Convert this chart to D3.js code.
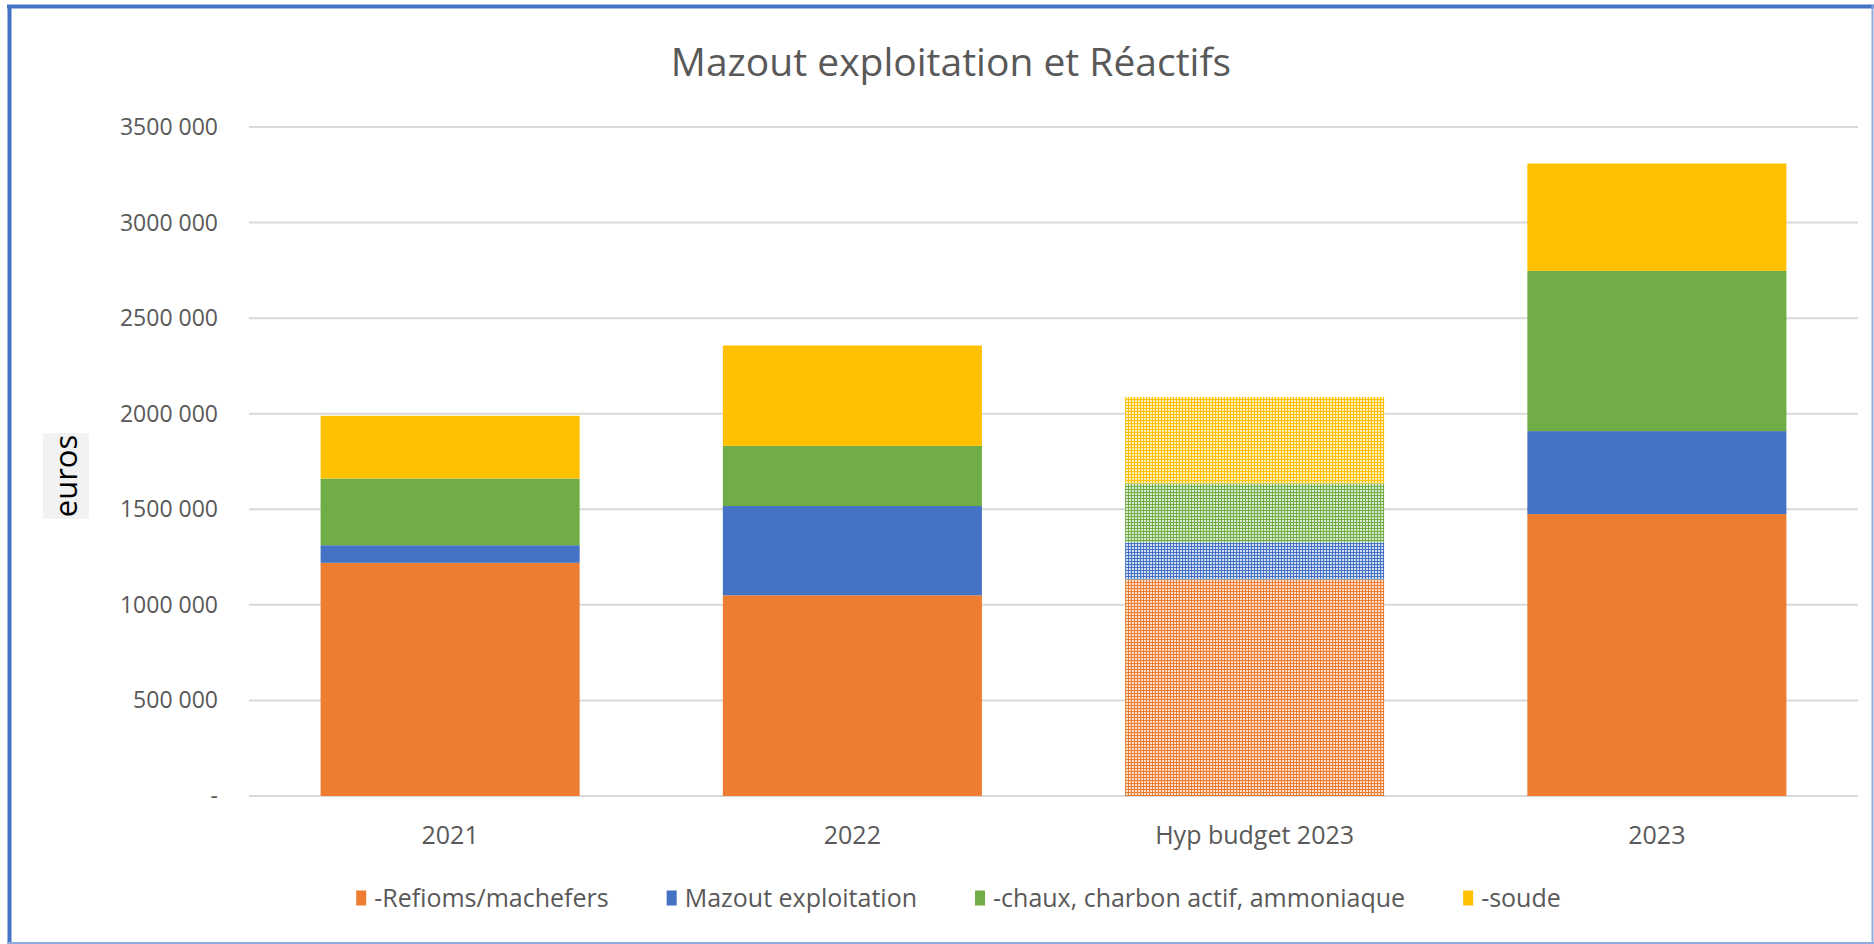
<!DOCTYPE html>
<html lang="fr">
  <head>
    <meta charset="utf-8">
    <title>Mazout exploitation et Réactifs</title>
    <script src="https://cdnjs.cloudflare.com/ajax/libs/d3/7.8.5/d3.min.js"></script>
    <style>
      body { margin: 0; background: #fff; }
      svg { display: block; font-family: "Open Sans", sans-serif; }
      .tick-label { fill: #595959; }
    </style>
  </head>
  <body>
    <div id="chart"></div>
    <script>
    // data (euros)
    const categories = ["2021", "2022", "Hyp budget 2023", "2023"];
    const refioms = [1220000, 1050000, 1133000, 1475000];
    const mazout  = [92000, 467000, 194000, 434000];
    const chaux   = [349000, 315000, 308000, 838000];
    const soude   = [328000, 525000, 453000, 562000];
    const seriesNames = ["-Refioms/machefers", "Mazout exploitation", "-chaux, charbon actif, ammoniaque", "-soude"];
    const seriesColors = ["#ED7D31", "#4472C4", "#70AD47", "#FFC000"];
    const yTicks = [0, 500000, 1000000, 1500000, 2000000, 2500000, 3000000, 3500000];
    const yTickLabels = ["-", "500 000", "1000 000", "1500 000", "2000 000", "2500 000", "3000 000", "3500 000"];
    const hatched = ["Hyp budget 2023"];  // budget hypothesis drawn with a dotted pattern

    const W = 1874, H = 944;
    const plot = {left: 249, right: 1858, top: 127, bottom: 796};

    const svg = d3.select("#chart").append("svg")
      .attr("width", W).attr("height", H);

    // patterns for the budget bar
    const defs = svg.append("defs");
    seriesColors.forEach((c, i) => {
      const p = defs.append("pattern")
        .attr("id", "pat" + i)
        .attr("patternUnits", "userSpaceOnUse")
        .attr("width", 3).attr("height", 3);
      p.append("rect").attr("width", 3).attr("height", 3).attr("fill", c);
      p.append("rect").attr("x", 1).attr("y", 1).attr("width", 2).attr("height", 2).attr("fill", "#fff").attr("opacity", 0.75);
    });

    // frame
    svg.append("line").attr("x1", 7).attr("x2", W).attr("y1", 6.5).attr("y2", 6.5)
      .attr("stroke", "#4472C4").attr("stroke-width", 4);
    svg.append("line").attr("x1", 9.5).attr("x2", 9.5).attr("y1", 5).attr("y2", H)
      .attr("stroke", "#4472C4").attr("stroke-width", 4);
    svg.append("line").attr("x1", 7).attr("x2", W).attr("y1", H - 1).attr("y2", H - 1)
      .attr("stroke", "#8FAADC").attr("stroke-width", 2);
    svg.append("line").attr("x1", W - 1.5).attr("x2", W - 1.5).attr("y1", 5).attr("y2", H)
      .attr("stroke", "#8FAADC").attr("stroke-width", 2);

    const x = d3.scaleBand()
      .domain(categories)
      .range([plot.left, plot.right])
      .paddingInner(0.356)
      .paddingOuter(0.178);

    const y = d3.scaleLinear()
      .domain([0, 3500000])
      .range([plot.bottom, plot.top]);

    // gridlines
    svg.append("g")
      .selectAll("line")
      .data(yTicks)
      .join("line")
      .attr("x1", plot.left).attr("x2", plot.right)
      .attr("y1", d => y(d)).attr("y2", d => y(d))
      .attr("stroke", "#D9D9D9").attr("stroke-width", 2);

    // y labels
    svg.append("g")
      .selectAll("text")
      .data(yTicks)
      .join("text")
      .attr("class", "tick-label")
      .attr("x", 218)
      .attr("y", d => y(d))
      .attr("dy", "0.35em")
      .attr("text-anchor", "end")
      .style("font-size", "23px")
      .text((d, i) => yTickLabels[i]);

    // stack
    const rows = categories.map((c, i) => ({cat: c, s0: refioms[i], s1: mazout[i], s2: chaux[i], s3: soude[i]}));
    const stack = d3.stack().keys(["s0", "s1", "s2", "s3"])(rows);

    stack.forEach((layer, li) => {
      svg.append("g")
        .selectAll("rect")
        .data(layer)
        .join("rect")
        .attr("x", d => x(d.data.cat))
        .attr("width", x.bandwidth())
        .attr("y", d => y(d[1]))
        .attr("height", d => y(d[0]) - y(d[1]))
        .attr("fill", d => hatched.includes(d.data.cat) ? "url(#pat" + li + ")" : seriesColors[li]);
    });

    // x labels
    svg.append("g")
      .selectAll("text")
      .data(categories)
      .join("text")
      .attr("class", "tick-label")
      .attr("x", d => x(d) + x.bandwidth() / 2)
      .attr("y", 835)
      .attr("dy", "0.35em")
      .attr("text-anchor", "middle")
      .style("font-size", "25px")
      .text(d => d);

    // title
    svg.append("text")
      .attr("x", 951)
      .attr("y", 62)
      .attr("dy", "0.35em")
      .attr("text-anchor", "middle")
      .attr("fill", "#595959")
      .style("font-size", "39px")
      .text("Mazout exploitation et Réactifs");

    // y axis title with grey box
    svg.append("rect")
      .attr("x", 43).attr("y", 433).attr("width", 46).attr("height", 86)
      .attr("fill", "#F2F2F2");
    svg.append("text")
      .attr("transform", "translate(66,476) rotate(-90)")
      .attr("dy", "0.35em")
      .attr("text-anchor", "middle")
      .attr("fill", "#000")
      .style("font-size", "31px")
      .text("euros");

    // legend
    const legend = svg.append("g");
    let lx = 0;
    seriesNames.forEach((name, i) => {
      const g = legend.append("g");
      g.append("rect").attr("x", 0).attr("y", -7.5).attr("width", 10).attr("height", 15)
        .attr("fill", seriesColors[i]);
      const t = g.append("text")
        .attr("class", "tick-label")
        .attr("x", 18)
        .attr("dy", "0.35em")
        .style("font-size", "25px")
        .text(name);
      const w = 18 + t.node().getComputedTextLength();
      g.attr("transform", "translate(" + lx + ",0)");
      lx += w + 58;
    });
    const legendWidth = lx - 58;
    legend.attr("transform", "translate(" + (958.5 - legendWidth / 2) + ",898)");
    </script>
  </body>
</html>
